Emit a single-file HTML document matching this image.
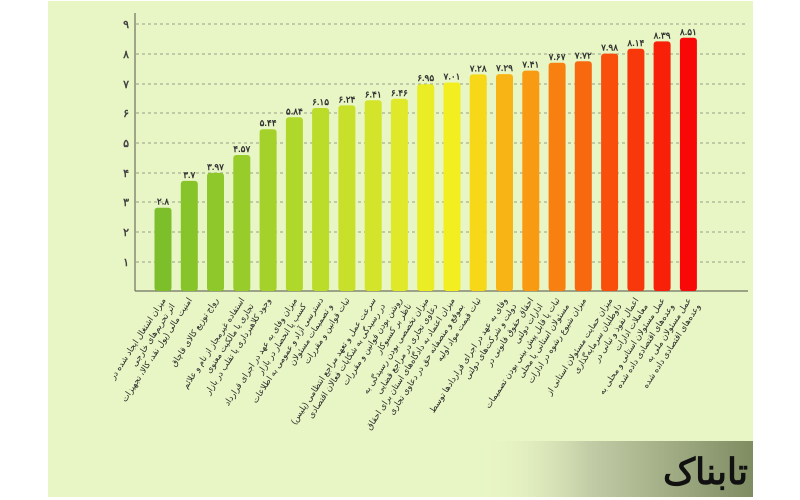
<!DOCTYPE html>
<html><head><meta charset="utf-8"><style>
html,body{margin:0;padding:0;background:#fff;width:800px;height:500px;overflow:hidden}
svg{display:block}
</style></head><body>
<svg width="800" height="500" viewBox="0 0 800 500" xmlns="http://www.w3.org/2000/svg">
<defs>
<linearGradient id="wm" x1="0" x2="1" y1="0" y2="0">
<stop offset="0" stop-color="#e8f5c4" stop-opacity="0"/>
<stop offset="0.4" stop-color="#c2cca6"/>
<stop offset="1" stop-color="#7f8c62"/>
</linearGradient>
<clipPath id="pc"><rect x="48" y="1" width="705" height="496"/></clipPath>
</defs>
<rect x="48" y="1" width="705" height="496" fill="#e8f5c4"/>
<rect x="480" y="441" width="273" height="56" fill="url(#wm)"/>
<g stroke="#9aa08a" stroke-width="1" stroke-dasharray="3,3">
<line x1="136" y1="24" x2="745" y2="24"/>
<line x1="136" y1="54" x2="745" y2="54"/>
<line x1="136" y1="84" x2="745" y2="84"/>
<line x1="136" y1="113" x2="745" y2="113"/>
<line x1="136" y1="143" x2="745" y2="143"/>
<line x1="136" y1="173" x2="745" y2="173"/>
<line x1="136" y1="202" x2="745" y2="202"/>
<line x1="136" y1="232" x2="745" y2="232"/>
<line x1="136" y1="262" x2="745" y2="262"/>
</g>
<line x1="135" y1="13" x2="135" y2="291" stroke="#6e7060" stroke-width="1.2"/>
<line x1="135" y1="291" x2="748" y2="291" stroke="#6e7060" stroke-width="1.2"/>
<g font-family="'Liberation Sans','Noto Sans CJK SC',sans-serif" font-size="11" font-weight="bold" fill="#444" text-anchor="end">
<text x="129" y="28">۹</text><text x="129" y="58">۸</text><text x="129" y="88">۷</text>
<text x="129" y="117">۶</text><text x="129" y="147">۵</text><text x="129" y="177">۴</text>
<text x="129" y="206">۳</text><text x="129" y="236">۲</text><text x="129" y="266">۱</text>
</g>
<g>
<rect x="154.5" y="207.7" width="17" height="83.3" rx="3" fill="#7dbf2a"/>
<rect x="180.8" y="180.9" width="17" height="110.1" rx="3" fill="#86c42a"/>
<rect x="207.0" y="172.9" width="17" height="118.1" rx="3" fill="#8fc82a"/>
<rect x="233.3" y="155.0" width="17" height="136.0" rx="3" fill="#98cc2a"/>
<rect x="259.6" y="129.2" width="17" height="161.8" rx="3" fill="#a4d22a"/>
<rect x="285.9" y="117.3" width="17" height="173.7" rx="3" fill="#b0d82a"/>
<rect x="312.1" y="108.0" width="17" height="183.0" rx="3" fill="#bcdc2a"/>
<rect x="338.4" y="105.4" width="17" height="185.6" rx="3" fill="#c8e02a"/>
<rect x="364.7" y="100.3" width="17" height="190.7" rx="3" fill="#d4e42a"/>
<rect x="390.9" y="98.8" width="17" height="192.2" rx="3" fill="#e0e82a"/>
<rect x="417.2" y="84.2" width="17" height="206.8" rx="3" fill="#eaec24"/>
<rect x="443.5" y="82.5" width="17" height="208.5" rx="3" fill="#f2ee20"/>
<rect x="469.7" y="74.4" width="17" height="216.6" rx="3" fill="#f6d818"/>
<rect x="496.0" y="74.1" width="17" height="216.9" rx="3" fill="#f7b414"/>
<rect x="522.3" y="70.6" width="17" height="220.4" rx="3" fill="#f89a12"/>
<rect x="548.6" y="62.8" width="17" height="228.2" rx="3" fill="#f88010"/>
<rect x="574.8" y="61.3" width="17" height="229.7" rx="3" fill="#f8680e"/>
<rect x="601.1" y="53.6" width="17" height="237.4" rx="3" fill="#f8500c"/>
<rect x="627.4" y="48.8" width="17" height="242.2" rx="3" fill="#f8380a"/>
<rect x="653.6" y="41.4" width="17" height="249.6" rx="3" fill="#f82008"/>
<rect x="679.9" y="37.8" width="17" height="253.2" rx="3" fill="#f80806"/>
</g>
<g font-family="'Liberation Sans','Noto Sans CJK SC',sans-serif" font-size="9" font-weight="bold" fill="#333" text-anchor="middle">
<text x="163.0" y="204.7">۲.۸</text>
<text x="189.3" y="177.9">۳.۷</text>
<text x="215.5" y="169.9">۳.۹۷</text>
<text x="241.8" y="152.0">۴.۵۷</text>
<text x="268.1" y="126.2">۵.۴۴</text>
<text x="294.4" y="114.3">۵.۸۴</text>
<text x="320.6" y="105.0">۶.۱۵</text>
<text x="346.9" y="102.4">۶.۲۴</text>
<text x="373.2" y="97.3">۶.۴۱</text>
<text x="399.4" y="95.8">۶.۴۶</text>
<text x="425.7" y="81.2">۶.۹۵</text>
<text x="452.0" y="79.5">۷.۰۱</text>
<text x="478.2" y="71.4">۷.۲۸</text>
<text x="504.5" y="71.1">۷.۲۹</text>
<text x="530.8" y="67.6">۷.۴۱</text>
<text x="557.1" y="59.8">۷.۶۷</text>
<text x="583.3" y="58.3">۷.۷۲</text>
<text x="609.6" y="50.6">۷.۹۸</text>
<text x="635.9" y="45.8">۸.۱۴</text>
<text x="662.1" y="38.4">۸.۳۹</text>
<text x="688.4" y="34.8">۸.۵۱</text>
</g>
<g clip-path="url(#pc)" font-family="'Liberation Sans','Noto Sans CJK SC',sans-serif" font-size="8.5" fill="#2a2a2a" text-anchor="end">
<text transform="translate(166,300) rotate(-57)"><tspan x="0" y="0">میزان اشتغال ایجاد شده در</tspan><tspan x="0" y="11">اثر تحریم‌های خارجی</tspan></text>
<text transform="translate(192.3,300) rotate(-57)"><tspan x="0" y="0">امنیت مالی (پول نقد، کالا، تجهیزات</tspan></text>
<text transform="translate(218.5,300) rotate(-57)"><tspan x="0" y="0">رواج توزیع کالای قاچاق</tspan></text>
<text transform="translate(244.8,300) rotate(-57)"><tspan x="0" y="0">استفاده غیرمجاز از نام و علائم</tspan><tspan x="0" y="11">تجاری یا مالکیت معنوی</tspan></text>
<text transform="translate(271.1,300) rotate(-57)"><tspan x="0" y="0">وجود کلاهبرداری یا تقلب در بازار</tspan></text>
<text transform="translate(297.4,300) rotate(-57)"><tspan x="0" y="0">میزان وفای به عهد در اجرای قرارداد</tspan><tspan x="0" y="11">کسب یا انحصار در بازار</tspan></text>
<text transform="translate(323.6,300) rotate(-57)"><tspan x="0" y="0">دسترسی آزاد و عمومی به اطلاعات</tspan><tspan x="0" y="11">و تصمیمات مسئولان</tspan></text>
<text transform="translate(349.9,300) rotate(-57)"><tspan x="0" y="0">ثبات قوانین و مقررات</tspan></text>
<text transform="translate(376.2,300) rotate(-57)"><tspan x="0" y="0">سرعت عمل و تعهد مراجع انتظامی (پلیس)</tspan><tspan x="0" y="11">در رسیدگی به شکایات فعالان اقتصادی</tspan></text>
<text transform="translate(402.4,300) rotate(-57)"><tspan x="0" y="0">روشن بودن قوانین و مقررات</tspan><tspan x="0" y="11">ناظر بر کسبوکار</tspan></text>
<text transform="translate(428.7,300) rotate(-57)"><tspan x="0" y="0">میزان تخصصی بودن رسیدگی به</tspan><tspan x="0" y="11">دعاوی تجاری در مراجع قضایی</tspan></text>
<text transform="translate(455.0,300) rotate(-57)"><tspan x="0" y="0">میزان اعتماد به دادگاه‌های استان برای احقاق</tspan><tspan x="0" y="11">بموقع و منصفانه حق در دعاوی تجاری</tspan></text>
<text transform="translate(481.2,300) rotate(-57)"><tspan x="0" y="0">ثبات قیمت مواد اولیه</tspan></text>
<text transform="translate(507.5,300) rotate(-57)"><tspan x="0" y="0">وفای به عهد در اجرای قراردادها توسط</tspan><tspan x="0" y="11">دولت و شرکت‌های دولتی</tspan></text>
<text transform="translate(533.8,300) rotate(-57)"><tspan x="0" y="0">احقاق حقوق قانونی در</tspan><tspan x="0" y="11">ادارات دولتی</tspan></text>
<text transform="translate(560.1,300) rotate(-57)"><tspan x="0" y="0">ثبات یا قابل پیش بینی بودن تصمیمات</tspan><tspan x="0" y="11">مسئولان استانی یا محلی</tspan></text>
<text transform="translate(586.3,300) rotate(-57)"><tspan x="0" y="0">میزان شیوع رشوه در ادارات</tspan></text>
<text transform="translate(612.6,300) rotate(-57)"><tspan x="0" y="0">میزان حمایت مسئولان استانی از</tspan><tspan x="0" y="11">داوطلبان سرمایه‌گذاری</tspan></text>
<text transform="translate(638.9,300) rotate(-57)"><tspan x="0" y="0">اعمال نفوذ و تبانی در</tspan><tspan x="0" y="11">معاملات ادارات</tspan></text>
<text transform="translate(665.1,300) rotate(-57)"><tspan x="0" y="0">عمل مسئولان استانی و محلی به</tspan><tspan x="0" y="11">وعده‌های اقتصادی داده شده</tspan></text>
<text transform="translate(691.4,300) rotate(-57)"><tspan x="0" y="0">عمل مسئولان ملی به</tspan><tspan x="0" y="11">وعده‌های اقتصادی داده شده</tspan></text>
</g>
<text x="748" y="484" text-anchor="end" font-family="'Liberation Serif','Noto Sans CJK SC',serif" font-size="36" font-weight="bold" fill="#111">تابناک</text>
</svg>
</body></html>
